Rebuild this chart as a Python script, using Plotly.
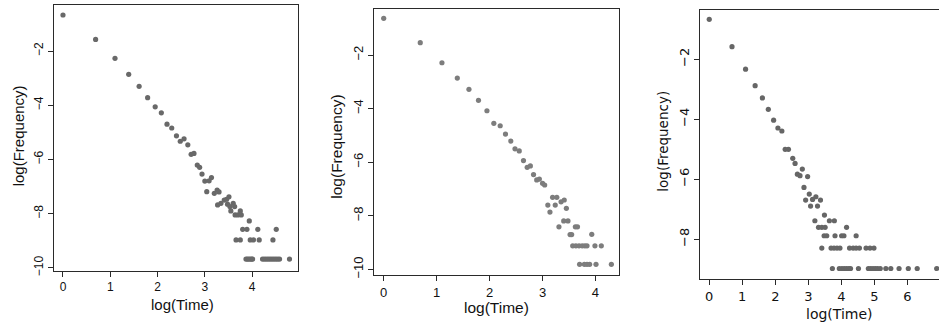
import plotly.graph_objects as go

W, H = 939, 325

# ---------------- data ----------------
log_time_a = [0.00, 0.69, 1.10, 1.39, 1.61, 1.79, 1.95, 2.08, 2.20, 2.30, 2.40, 2.48, 2.56, 2.64,
              2.71, 2.77, 2.84, 2.89, 2.94, 3.00, 3.04, 3.09, 3.14, 3.20, 3.26, 3.27, 3.30, 3.34,
              3.41, 3.46, 3.48, 3.51, 3.53, 3.55, 3.60, 3.63, 3.64, 3.70, 3.75, 3.77,
              3.80, 3.89, 4.12, 4.51,
              3.66, 3.75, 3.96, 4.03, 4.15, 4.44,
              3.94,
              3.87, 3.90, 3.93, 3.96, 3.99, 4.01,
              4.22, 4.26, 4.30, 4.34, 4.38, 4.42, 4.46, 4.50, 4.54, 4.58, 4.79]
log_freq_a = [-0.67, -1.57, -2.27, -2.86, -3.30, -3.72, -4.06, -4.28, -4.70, -4.84, -5.13, -5.33, -5.24, -5.46,
              -5.81, -5.78, -6.21, -6.29, -6.54, -6.80, -7.19, -6.79, -6.67, -7.25, -7.13, -7.68, -7.20, -7.62,
              -7.50, -7.47, -7.65, -7.38, -7.74, -7.90, -7.62, -7.74, -8.05, -8.05, -7.90, -8.05,
              -8.58, -8.58, -8.58, -8.58,
              -8.97, -8.97, -8.97, -8.97, -8.97, -8.97,
              -8.27,
              -9.68, -9.68, -9.68, -9.68, -9.68, -9.68,
              -9.68, -9.68, -9.68, -9.68, -9.68, -9.68, -9.68, -9.68, -9.68, -9.68, -9.68]

log_time_b = [0.00, 0.69, 1.10, 1.39, 1.61, 1.79, 1.95, 2.08, 2.20, 2.30, 2.40, 2.48, 2.56, 2.64,
              2.71, 2.77, 2.83, 2.89, 2.94, 3.00, 3.04, 3.10, 3.14, 3.19, 3.24, 3.27, 3.31, 3.35,
              3.40, 3.41, 3.45, 3.48, 3.52, 3.55, 3.62, 3.66, 3.93,
              3.57, 3.63, 3.69, 3.75, 3.80, 3.84, 3.99, 4.11,
              3.70, 3.79, 3.84, 3.89, 4.01, 4.30]
log_freq_b = [-0.63, -1.54, -2.29, -2.86, -3.28, -3.69, -4.08, -4.55, -4.64, -4.95, -5.21, -5.50, -5.58, -5.94,
              -6.19, -6.14, -6.46, -6.66, -6.63, -6.79, -6.85, -7.60, -7.86, -7.31, -7.60, -7.31, -8.41, -7.48,
              -8.19, -7.41, -7.72, -8.19, -8.70, -8.70, -8.41, -8.41, -8.69,
              -9.12, -9.12, -9.12, -9.12, -9.12, -9.12, -9.12, -9.12,
              -9.81, -9.81, -9.81, -9.81, -9.81, -9.81]

log_time_c = [0.00, 0.69, 1.10, 1.39, 1.61, 1.79, 1.95, 2.08, 2.20, 2.30, 2.40, 2.53, 2.60, 2.67,
              2.75, 2.82, 2.87, 2.92, 2.98, 3.03, 3.07, 3.13, 3.23, 3.28, 3.37, 3.49,
              3.20, 3.64, 3.79,
              3.31, 3.41, 3.51, 4.16,
              3.48, 3.56, 3.81, 4.01, 4.08, 4.45,
              3.41, 3.69, 3.78, 3.87, 3.96, 4.25, 4.36, 4.45, 4.55, 4.75, 4.87, 4.99,
              3.73, 3.94, 4.02, 4.09, 4.16, 4.23, 4.28, 4.52, 4.82, 4.89, 4.96, 5.03, 5.10, 5.18,
              5.35, 5.50, 5.75, 6.03, 6.30, 6.89]
log_freq_c = [-0.67, -1.58, -2.33, -2.88, -3.29, -3.67, -4.03, -4.29, -4.39, -5.00, -5.00, -5.30, -5.47, -5.83,
              -5.88, -5.66, -6.27, -6.69, -5.91, -6.49, -6.89, -6.67, -6.58, -6.89, -6.69, -7.19,
              -7.38, -7.38, -7.38,
              -7.60, -7.60, -7.60, -7.60,
              -7.88, -7.88, -7.88, -7.88, -7.88, -7.88,
              -8.29, -8.29, -8.29, -8.29, -8.29, -8.29, -8.29, -8.29, -8.29, -8.29, -8.29, -8.29,
              -8.97, -8.97, -8.97, -8.97, -8.97, -8.97, -8.97, -8.97, -8.97, -8.97, -8.97, -8.97, -8.97, -8.97,
              -8.97, -8.97, -8.97, -8.97, -8.97, -8.97]

x_ticks_a = [0, 1, 2, 3, 4]
x_ticks_b = [0, 1, 2, 3, 4]
x_ticks_c = [0, 1, 2, 3, 4, 5, 6]
y_ticks_ab = [-2, -4, -6, -8, -10]
y_ticks_c = [-2, -4, -6, -8]

x_title = "log(Time)"
y_title = "log(Frequency)"

# ---------------- figure ----------------
def px_x(p):
    return p / W

def px_y(p):
    return 1 - p / H

fig = go.Figure()

fig.add_trace(go.Scatter(x=log_time_a, y=log_freq_a, mode="markers", xaxis="x", yaxis="y",
                         marker=dict(size=5.2, color="#696969", line=dict(width=0)),
                         showlegend=False, hoverinfo="skip"))
fig.add_trace(go.Scatter(x=log_time_b, y=log_freq_b, mode="markers", xaxis="x2", yaxis="y2",
                         marker=dict(size=5.2, color="#7d7d7d", line=dict(width=0)),
                         showlegend=False, hoverinfo="skip"))
fig.add_trace(go.Scatter(x=log_time_c, y=log_freq_c, mode="markers", xaxis="x3", yaxis="y3",
                         marker=dict(size=5.2, color="#666666", line=dict(width=0)),
                         showlegend=False, hoverinfo="skip"))

line_col = "#2a2a2a"
arial = "Liberation Sans, Arial, sans-serif"
tah = "DejaVu Sans, sans-serif"

def xa(domain, anchor, rng, ticks, font, size, mirror=True):
    return dict(domain=domain, anchor=anchor, range=rng, tickvals=ticks, automargin=False,
                showgrid=False, zeroline=False, showline=True, linecolor=line_col, linewidth=1,
                mirror=mirror, ticks="outside", ticklen=5, tickwidth=1, tickcolor=line_col,
                tickfont=dict(family=font, size=size, color="#111111"), fixedrange=True)

def ya(domain, anchor, rng, ticks, font, size, mirror=True):
    return dict(domain=domain, anchor=anchor, range=rng, tickvals=ticks, automargin=False,
                showgrid=False, zeroline=False, showline=True, linecolor=line_col, linewidth=1,
                mirror=mirror, ticks="outside", ticklen=5, tickwidth=1, tickcolor=line_col,
                tickangle=-90, tickfont=dict(family=font, size=size, color="#111111"), fixedrange=True)

fig.update_layout(
    template="none",
    width=W, height=H,
    margin=dict(l=0, r=0, t=0, b=0, pad=0),
    paper_bgcolor="white", plot_bgcolor="white",
    xaxis=xa([px_x(54), px_x(298)], "y", [-0.19, 4.97], x_ticks_a, arial, 12),
    yaxis=ya([px_y(270.5), px_y(5)], "x", [-10.10, -0.30], y_ticks_ab, arial, 12),
    xaxis2=xa([px_x(374.3), px_x(619.3)], "y2", [-0.178, 4.45], x_ticks_b, arial, 13),
    yaxis2=ya([px_y(275.3), px_y(9.3)], "x2", [-10.22, -0.295], y_ticks_ab, arial, 13),
    xaxis3=xa([px_x(700), 1.0], "y3", [-0.28, 6.96], x_ticks_c, tah, 13, mirror=True),
    yaxis3=ya([px_y(279.3), px_y(10)], "x3", [-9.33, -0.36], y_ticks_c, tah, 13, mirror=False),
)

annos = [
    dict(text=x_title, x=px_x(182), y=px_y(304), font=dict(family=arial, size=15)),
    dict(text=y_title, x=px_x(18.3), y=px_y(136), textangle=-90, font=dict(family=arial, size=15)),
    dict(text=x_title, x=px_x(497), y=px_y(307.5), font=dict(family=arial, size=15.5)),
    dict(text=y_title, x=px_x(337), y=px_y(146.7), textangle=-90, font=dict(family=arial, size=15.5)),
    dict(text=x_title, x=px_x(839), y=px_y(314), font=dict(family=tah, size=14)),
    dict(text=y_title, x=px_x(662.7), y=px_y(141), textangle=-90, font=dict(family=tah, size=13.5)),
]
for a in annos:
    a.update(xref="paper", yref="paper", xanchor="center", yanchor="middle", showarrow=False)
    a["font"]["color"] = "#111111"
    fig.add_annotation(**a)

# partially visible "7" tick label at the right edge of the third panel
fig.add_annotation(text="7", x=7, xref="x3", y=px_y(295), yref="paper", showarrow=False,
                   xanchor="center", yanchor="middle", font=dict(family=tah, size=13, color="#111111"))

fig.write_html("out.html", config={"displayModeBar": False},
               post_script="document.body.style.margin='0';document.body.style.overflow='hidden';")
